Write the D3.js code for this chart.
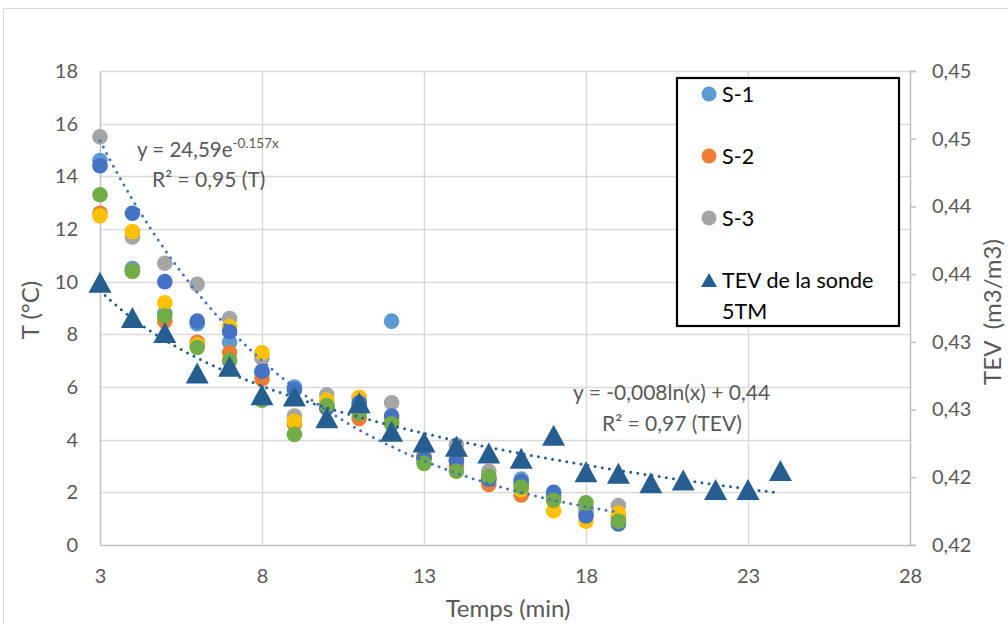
<!DOCTYPE html>
<html>
<head>
<meta charset="utf-8">
<script src="https://cdn.jsdelivr.net/npm/d3@7/dist/d3.min.js"></script>
<style>
  body { margin: 0; background: #fff; }
  svg { display: block; }
  text { font-family: Lato, "Open Sans", sans-serif; }
</style>
</head>
<body>
<svg id="chart" width="1008" height="624"></svg>
<script>
// Temperature readings (°C) per probe, one value per minute
const minutes = [3, 4, 5, 6, 7, 8, 9, 10, 11, 12, 13, 14, 15, 16, 17, 18, 19];
const s1 = [14.6, 10.5, 8.8, 8.4, 7.7, 6.5, 6.0, 5.3, 5.3, 8.5, 3.3, 3.2, 2.5, 2.5, 1.9, 1.2, 1.0];
const s2 = [12.6, 10.4, 8.5, 7.7, 7.3, 6.3, 4.6, 5.2, 4.8, 4.7, 3.3, 3.0, 2.3, 1.9, 1.8, 1.4, 1.1];
const s3 = [15.5, 11.7, 10.7, 9.9, 8.6, 7.1, 4.9, 5.7, 5.6, 5.4, 3.3, 3.8, 2.8, 2.3, 1.8, 1.3, 1.5];
const s4 = [12.5, 11.9, 9.2, 7.6, 8.3, 7.3, 4.7, 5.5, 5.6, 4.8, 3.4, 3.3, 2.5, 2.1, 1.3, 0.9, 1.2];
const s5 = [14.4, 12.6, 10.0, 8.5, 8.1, 6.6, 5.9, 5.2, 5.4, 4.9, 3.3, 3.2, 2.5, 2.4, 2.0, 1.1, 0.8];
const s6 = [13.3, 10.4, 8.7, 7.5, 7.0, 5.5, 4.2, 5.3, 5.0, 4.6, 3.1, 2.8, 2.6, 2.2, 1.7, 1.6, 0.9];

// Volumetric water content (m3/m3) from the 5TM probe
const tevMinutes = [3, 4, 5, 6, 7, 8, 9, 10, 11, 12, 13, 14, 15, 16, 17, 18, 19, 20, 21, 22, 23, 24];
const tev = [0.4344, 0.4318, 0.4307, 0.4277, 0.4282, 0.4261, 0.4260, 0.4244, 0.4255, 0.4234, 0.4226,
             0.4223, 0.4218, 0.4214, 0.4231, 0.4204, 0.4203, 0.4196, 0.4198, 0.4191, 0.4191, 0.4205];

// Axis ticks
const xTicks = [3, 8, 13, 18, 23, 28];
const tTicks = [0, 2, 4, 6, 8, 10, 12, 14, 16, 18];
const tevTicks = [0.415, 0.42, 0.425, 0.43, 0.435, 0.44, 0.445, 0.45];
const tevTickLabels = ["0,42", "0,42", "0,43", "0,43", "0,44", "0,44", "0,45", "0,45"];

// Exponential fit of the temperatures: T = a·e^(b·t)
const expA = 24.59, expB = -0.157;

const seriesList = [
  { name: "S-1", values: s1, color: "#5B9BD5", legend: true },
  { name: "S-2", values: s2, color: "#ED7D31", legend: true },
  { name: "S-3", values: s3, color: "#A5A5A5", legend: true },
  { name: "S-4", values: s4, color: "#FFC000", legend: false },
  { name: "S-5", values: s5, color: "#4472C4", legend: false },
  { name: "S-6", values: s6, color: "#70AD47", legend: false }
];
const tevColor = "#255E91";

const svg = d3.select("#chart");
const plotLeft = 100, plotRight = 910, plotTop = 71, plotBottom = 545;

const x = d3.scaleLinear().domain([3, 28]).range([plotLeft, plotRight]);
const yT = d3.scaleLinear().domain([0, 18]).range([plotBottom, plotTop]);
const yTev = d3.scaleLinear().domain([0.415, 0.45]).range([plotBottom, plotTop]);

// Chart frame
svg.append("rect").attr("x", 3.5).attr("y", 8.5).attr("width", 1100).attr("height", 700)
  .attr("fill", "#fff").attr("stroke", "#D9D9D9").attr("stroke-width", 1);

// Gridlines
svg.append("g").selectAll("line").data(tTicks.slice(1)).join("line")
  .attr("x1", plotLeft).attr("x2", plotRight)
  .attr("y1", d => Math.round(yT(d)) + 0.5).attr("y2", d => Math.round(yT(d)) + 0.5)
  .attr("stroke", "#D9D9D9").attr("stroke-width", 1.5);
svg.append("g").selectAll("line").data(xTicks.slice(1, -1)).join("line")
  .attr("x1", d => Math.round(x(d)) + 0.5).attr("x2", d => Math.round(x(d)) + 0.5)
  .attr("y1", plotTop).attr("y2", plotBottom)
  .attr("stroke", "#D9D9D9").attr("stroke-width", 1.5);

// Axes
const axisColor = "#BFBFBF", labelColor = "#595959";
const xAxis = svg.append("g").attr("transform", `translate(0,${plotBottom})`)
  .call(d3.axisBottom(x).tickValues(xTicks).tickSize(0).tickPadding(24));
const yAxis = svg.append("g").attr("transform", `translate(${plotLeft},0)`)
  .call(d3.axisLeft(yT).tickValues(tTicks).tickSize(0).tickPadding(22));
const y2Axis = svg.append("g").attr("transform", `translate(${plotRight},0)`)
  .call(d3.axisRight(yTev).tickValues(tevTicks).tickSize(6).tickPadding(16)
    .tickFormat((d, i) => tevTickLabels[i]));
[xAxis, yAxis, y2Axis].forEach(g => {
  g.select(".domain").attr("stroke", axisColor).attr("stroke-width", 1.5);
  g.selectAll(".tick line").attr("stroke", axisColor).attr("stroke-width", 1.5);
  g.selectAll(".tick text").attr("fill", labelColor).style("font-size", "20px")
    .style("font-family", "Lato, 'Open Sans', sans-serif");
});

// Axis titles
svg.append("text").attr("x", 508).attr("y", 617).attr("text-anchor", "middle")
  .attr("fill", labelColor).style("font-size", "24px").text("Temps (min)");
svg.append("text").attr("transform", "translate(39,310) rotate(-90)").attr("text-anchor", "middle")
  .attr("fill", labelColor).style("font-size", "24px").text("T (°C)");
svg.append("text").attr("transform", "translate(1001,312) rotate(-90)").attr("text-anchor", "middle")
  .attr("fill", labelColor).style("font-size", "24px").attr("xml:space", "preserve").text("TEV  (m3/m3)");

// Temperature markers
seriesList.forEach(s => {
  svg.append("g").selectAll("circle").data(minutes).join("circle")
    .attr("cx", d => x(d))
    .attr("cy", (d, i) => yT(s.values[i]))
    .attr("r", 7.8)
    .attr("fill", s.color);
});

// Water content markers (triangles)
const triangle = (w, h) => `M0,${-h / 2}L${w / 2},${h / 2}L${-w / 2},${h / 2}Z`;
svg.append("g").selectAll("path").data(tevMinutes).join("path")
  .attr("transform", (d, i) => `translate(${x(d)},${yTev(tev[i])})`)
  .attr("d", triangle(23, 21))
  .attr("fill", tevColor);

// Logarithmic least-squares fit of the water content: TEV = a·ln(t) + b
const lx = tevMinutes.map(Math.log);
const mx = d3.mean(lx), my = d3.mean(tev);
const logA = d3.sum(lx, (v, i) => (v - mx) * (tev[i] - my)) / d3.sum(lx, v => (v - mx) ** 2);
const logB = my - logA * mx;

const dotted = sel => sel.attr("fill", "none").attr("stroke-width", 3)
  .attr("stroke-linecap", "round").attr("stroke-dasharray", "0,7.2");

const expPts = d3.range(3, 19.001, 0.1).map(t => [x(t), yT(expA * Math.exp(expB * t))]);
const logPts = d3.range(3, 24.001, 0.1).map(t => [x(t), yTev(logA * Math.log(t) + logB)]);
svg.append("path").attr("d", d3.line()(logPts)).attr("stroke", tevColor).call(dotted);
svg.append("path").attr("d", d3.line()(expPts)).attr("stroke", "#4472C4").call(dotted);

// Fit equations
const eq1 = svg.append("text").attr("x", 137).attr("y", 157).attr("fill", labelColor).style("font-size", "20.5px");
eq1.append("tspan").text("y = 24,59e");
eq1.append("tspan").attr("dy", -9).style("font-size", "13.5px").text("-0.157x");
svg.append("text").attr("x", 152).attr("y", 187).attr("fill", labelColor).style("font-size", "21px").text("R² = 0,95 (T)");
svg.append("text").attr("x", 573).attr("y", 400).attr("fill", labelColor).style("font-size", "21px").text("y = -0,008ln(x) + 0,44");
svg.append("text").attr("x", 602).attr("y", 431).attr("fill", labelColor).style("font-size", "21px").text("R² = 0,97 (TEV)");

// Legend
const lg = svg.append("g");
lg.append("rect").attr("x", 677).attr("y", 78).attr("width", 222).attr("height", 248)
  .attr("fill", "#fff").attr("stroke", "#000").attr("stroke-width", 2.2);
const legendItems = seriesList.filter(s => s.legend);
legendItems.forEach((s, i) => {
  const cy = 94 + i * 62;
  lg.append("circle").attr("cx", 709).attr("cy", cy).attr("r", 7.5).attr("fill", s.color);
  lg.append("text").attr("x", 722).attr("y", cy + 8).attr("fill", "#000").style("font-size", "21.5px").text(s.name);
});
const ty = 94 + legendItems.length * 62;
lg.append("path").attr("transform", `translate(709,${ty})`).attr("d", triangle(16, 14)).attr("fill", tevColor);
lg.append("text").attr("x", 722).attr("y", ty + 8).attr("fill", "#000").style("font-size", "21.5px").text("TEV de la sonde");
lg.append("text").attr("x", 722).attr("y", ty + 39).attr("fill", "#000").style("font-size", "21.5px").text("5TM");
</script>
</body>
</html>
